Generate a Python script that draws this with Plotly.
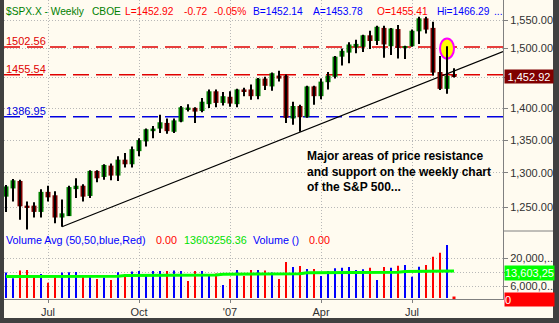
import math
import pandas as pd
import plotly.graph_objects as go

# ---- weekly S&P 500 bars (week starting Monday) ----
weeks = pd.date_range("2006-05-22", periods=65, freq="W-MON")

opens = [1265, 1277, 1288, 1252, 1252, 1243, 1272, 1267, 1235, 1237, 1276, 1281, 1266,
         1303, 1294, 1311, 1296, 1320, 1313, 1333, 1348, 1364, 1368, 1377, 1363, 1379,
         1399, 1401, 1396, 1407, 1428, 1409, 1419, 1407, 1431, 1431, 1420, 1449, 1436,
         1454, 1454, 1384, 1404, 1386, 1436, 1420, 1443, 1452, 1486, 1493, 1502, 1503,
         1523, 1513, 1536, 1504, 1534, 1502.6, 1504, 1530, 1553, 1536, 1460, 1432, 1455.41]
highs = [1282, 1291, 1290, 1258, 1257, 1276, 1281, 1273, 1261, 1281, 1292, 1283, 1304,
         1304, 1313, 1314, 1325, 1330, 1340, 1353, 1368, 1372, 1390, 1384, 1384, 1404,
         1407, 1402, 1417, 1431, 1431, 1427, 1428, 1432, 1434, 1439, 1450, 1452, 1459,
         1462, 1456, 1411, 1406, 1437, 1437, 1449, 1460, 1487, 1500, 1511, 1515, 1524,
         1531, 1540, 1540, 1536, 1541, 1505, 1533, 1556, 1556, 1547, 1487, 1503.9, 1466.29]
lows = [1243, 1258, 1232, 1218, 1235, 1235, 1258, 1227, 1222, 1237, 1263, 1258, 1263,
        1286, 1290, 1289, 1288, 1308, 1308, 1325, 1340, 1353, 1361, 1360, 1361, 1378,
        1395, 1377, 1394, 1401, 1402, 1405, 1403, 1402, 1420, 1414, 1415, 1430, 1429,
        1444, 1377, 1374, 1363, 1385, 1406, 1415, 1431, 1449, 1471, 1475, 1492, 1494,
        1499, 1506, 1484, 1489, 1483, 1482, 1503, 1508, 1526, 1454, 1430, 1424, 1451]
closes = [1280, 1289, 1251, 1250, 1243, 1272, 1264, 1235, 1241, 1279, 1281, 1265, 1303,
          1292, 1312, 1296, 1320, 1313, 1336, 1350, 1367, 1368, 1378, 1364, 1381, 1402,
          1401.5, 1395, 1411, 1428, 1409, 1420, 1408, 1431, 1428, 1420, 1449, 1437, 1458,
          1449, 1385, 1404, 1386, 1436, 1420, 1444, 1454, 1486, 1496, 1507, 1508, 1523,
          1513, 1538, 1507, 1535, 1501, 1503.4, 1531, 1553, 1533, 1459, 1432, 1453.64, 1452.92]

# weekly volume in millions, with its up/down colouring and 50-bar average
volumes_m = [12.8, 9.9, 13.8, 14.1, 11.6, 12.1, 7.7, 11.6, 12.8, 13.0, 13.1, 11.6, 11.6,
             9.6, 10.3, 9.1, 13.0, 12.1, 13.3, 13.6, 12.1, 13.6, 13.6, 13.6, 13.8, 13.6,
             8.6, 13.6, 13.6, 12.1, 12.4, 6.6, 9.6, 14.1, 11.1, 14.1, 14.1, 13.8, 12.9,
             9.6, 18.1, 15.6, 16.1, 14.6, 14.6, 11.1, 13.6, 15.0, 15.3, 15.6, 14.1, 14.5,
             15.3, 9.1, 15.6, 15.3, 16.3, 16.6, 10.7, 15.8, 16.6, 20.8, 22.8, 26.7, 0.0]
vol_dir = ["up", "up", "dn", "dn", "dn", "up", "dn", "dn", "up", "up", "up", "dn", "up",
           "dn", "up", "dn", "up", "dn", "up", "up", "up", "up", "up", "dn", "up", "up",
           "dn", "dn", "up", "up", "dn", "up", "dn", "up", "dn", "dn", "up", "dn", "up",
           "dn", "dn", "up", "dn", "up", "dn", "up", "up", "up", "up", "up", "up", "up",
           "dn", "up", "dn", "up", "dn", "up", "up", "up", "dn", "dn", "dn", "up", "dn"]
vol_avg_m = [10.8, 10.8, 10.8, 10.8, 10.8, 10.8, 10.8, 10.8, 10.8, 10.8, 10.8, 10.8,
             11.0, 11.0, 11.0, 11.0, 11.0,
             11.3, 11.3, 11.3, 11.3, 11.3, 11.3, 11.3, 11.3, 11.3,
             11.6, 11.6, 11.6, 11.6, 11.6,
             12.0, 12.0, 12.0, 12.0, 12.0, 12.0, 12.0,
             12.2, 12.2, 12.2, 12.2, 12.2,
             12.7, 12.7, 12.7, 12.7, 12.7, 12.7, 12.7,
             13.0, 13.0, 13.0, 13.0, 13.0, 13.0, 13.0,
             13.3, 13.3, 13.4, 13.4, 13.5, 13.5, 13.6, 13.60325636]

# drawn studies
levels = [1502.56, 1455.54, 1386.95]
level_colors = ["#E00000", "#E00000", "#0000E0"]
trend_dates = ["2006-07-17", "2007-10-01"]
trend_prices = [1222.0, 1494.9]
marked_bar = 63  # the week whose high is circled

price_ticks = [1250, 1300, 1350, 1400, 1450, 1500, 1550]
price_tick_text = ["1,250.00", "1,300.00", "1,350.00", "1,400.00", "", "1,500.00", "1,550.00"]
vol_ticks = [6e6, 13e6, 20e6]
vol_tick_text = ["6,000,0...", "", "20,000,..."]
date_ticks = ["2006-07-03", "2006-10-02", "2007-01-01", "2007-04-02", "2007-07-02"]
date_tick_text = ["Jul", "Oct", "'07", "Apr", "Jul"]

FONT = "Liberation Sans, Arial, sans-serif"
BG = "#FFFBF0"
GRID = "#B8B8B8"
AXIS = "#808080"
FRAME = "#404040"
DAY_MS = 86400000

# plot-area geometry in pixels (whole figure 559 x 323)
W, H = 559, 323
PL, PR, PT, PB = 4, 503, 0, 299
SPLIT = 231  # boundary between price and volume panes


def xp(px):
    return (px - PL) / (PR - PL)


def yp(py):
    return (PB - py) / (PB - PT)


fig = go.Figure()

# candle wicks
wx, wy = [], []
for d, lo, hi in zip(weeks, lows, highs):
    wx += [d, d, None]
    wy += [lo, hi, None]
fig.add_trace(go.Scatter(x=wx, y=wy, mode="lines", line=dict(color="black", width=2),
                         hoverinfo="skip", showlegend=False))

# candle bodies
body_base = [min(o, c) for o, c in zip(opens, closes)]
body_len = [abs(c - o) for o, c in zip(opens, closes)]
body_col = ["#008000" if c >= o else "#800000" for o, c in zip(opens, closes)]
fig.add_trace(go.Bar(x=weeks, y=body_len, base=body_base, width=5 * DAY_MS,
                     marker=dict(color=body_col, line=dict(width=0)), showlegend=False))

# volume histogram
vols = [v * 1e6 for v in volumes_m]
vcol = ["#0000FF" if d == "up" else "#FF0000" for d in vol_dir]
fig.add_trace(go.Bar(x=weeks, y=vols, width=2 * DAY_MS, xaxis="x2", yaxis="y2",
                     marker=dict(color=vcol, line=dict(width=0)), showlegend=False))
zero_idx = [i for i, v in enumerate(vols) if v == 0]
fig.add_trace(go.Scatter(x=[weeks[i] for i in zero_idx], y=[0 for _ in zero_idx],
                         mode="markers", xaxis="x2", yaxis="y2",
                         marker=dict(symbol="square", size=3, color=[vcol[i] for i in zero_idx]),
                         showlegend=False))
fig.add_trace(go.Scatter(x=weeks, y=[v * 1e6 for v in vol_avg_m], mode="lines",
                         xaxis="x2", yaxis="y2", line=dict(color="#00FF00", width=3),
                         showlegend=False))

shapes = []
for lv, col in zip(levels, level_colors):
    shapes.append(dict(type="line", xref="paper", yref="y", x0=0, x1=1, y0=lv, y1=lv,
                       line=dict(color=col, width=1.5, dash="16px,7px"), layer="between"))
shapes.append(dict(type="line", xref="x", yref="y", x0=trend_dates[0], x1=trend_dates[1],
                   y0=trend_prices[0], y1=trend_prices[1],
                   line=dict(color="black", width=1.2), layer="between"))
# highlight ring around the circled high
mark_day = weeks[marked_bar]
mark_hi = highs[marked_bar]
shapes.append(dict(type="circle", xref="x", yref="y",
                   x0=mark_day - pd.Timedelta(days=7), x1=mark_day + pd.Timedelta(days=7),
                   y0=mark_hi / 1.0142, y1=mark_hi * 1.009, fillcolor="#FFFF00",
                   line=dict(color="#FF00FF", width=2), layer="between"))

# window frame and pane separator on the scale side
shapes += [
    dict(type="rect", xref="paper", yref="paper", x0=xp(0), x1=xp(PL), y0=yp(H), y1=yp(0),
         fillcolor=FRAME, line=dict(width=0), layer="above"),
    dict(type="rect", xref="paper", yref="paper", x0=xp(553), x1=xp(W), y0=yp(H), y1=yp(0),
         fillcolor=FRAME, line=dict(width=0), layer="above"),
    dict(type="rect", xref="paper", yref="paper", x0=xp(0), x1=xp(W), y0=yp(H), y1=yp(318),
         fillcolor=FRAME, line=dict(width=0), layer="above"),
    dict(type="line", xref="paper", yref="paper", x0=xp(PR), x1=xp(553), y0=yp(SPLIT),
         y1=yp(SPLIT), line=dict(color=AXIS, width=1), layer="above"),
]

ann = []


def label(x, y, text, color, size=11, yref="paper", **kw):
    d = dict(x=x, y=y, xref="paper", yref=yref, text=text, showarrow=False,
             xanchor="left", yanchor="middle", borderpad=0,
             font=dict(family=FONT, size=size, color=color))
    d.update(kw)
    ann.append(d)


# header line
GREEN_T, RED_T, BLUE_T = "#008000", "#FF0000", "#0000FF"
for x, t, c in [(5, "$SPX.X - Weekly", GREEN_T), (91, "CBOE", GREEN_T),
                (124, "L=1452.92", RED_T), (183, "-0.72", RED_T), (213, "-0.05%", RED_T),
                (252, "B=1452.14", BLUE_T), (312, "A=1453.78", BLUE_T),
                (376, "O=1455.41", RED_T), (436, "Hi=1466.29", BLUE_T), (493, "...", BLUE_T)]:
    label(xp(x), yp(11.5), t, c, size=10.2)

# volume pane header
for x, t, c in [(5, "Volume Avg (50,50,blue,Red)", BLUE_T), (155, "0.00", RED_T),
                (183, "13603256.36", "#00E000"), (252, "Volume ()", BLUE_T),
                (308, "0.00", RED_T)]:
    label(xp(x), yp(239.5), t, c, size=10.75)

# level captions above each line
for lv, col in zip(levels, level_colors):
    label(xp(5), math.log10(lv), f"{lv:.2f}", col, yref="y", yshift=6)

# comment text
label(xp(306), yp(171.7),
      "<b>Major areas of price resistance<br>and support on the weekly chart<br>"
      "of the S&amp;P 500...</b>", "black", size=12, align="left")

# last-value flags on the scale
label(xp(504), math.log10(closes[-1]), f"{closes[-1]:,.2f}", "white", yref="y",
      bgcolor="#800000", width=48, height=13, align="center")
label(xp(503.5), vol_avg_m[-1] * 1e6, f"{vol_avg_m[-1] * 1e6:,.0f}"[:9], "white", yref="y2",
      bgcolor="#00FF00", width=49, height=14, align="left", yshift=-2)
label(xp(503.5), vols[-1], f"{vols[-1]:.0f}", "white", yref="y2",
      bgcolor="#FF0000", width=49, height=13, align="left", yshift=-1.5)

x_range = ["2006-05-20", "2007-10-01"]
price_top, price_bottom = 1586.1, 1216.0
vol_top, vol_bottom = 33.75e6, -0.5e6

fig.update_layout(
    width=W, height=H,
    margin=dict(l=PL, r=W - PR, t=PT, b=H - PB),
    paper_bgcolor=BG, plot_bgcolor=BG,
    showlegend=False, barmode="overlay",
    font=dict(family=FONT, size=11, color="#303030"),
    xaxis=dict(type="date", range=x_range, domain=[0, 1], anchor="y",
               tickvals=date_ticks, showticklabels=False, ticks="",
               showgrid=True, gridcolor=GRID, griddash="1px,2px", gridwidth=1,
               zeroline=False, showline=False),
    yaxis=dict(type="log", domain=[yp(SPLIT), 1], anchor="x",
               range=[math.log10(price_bottom), math.log10(price_top)],
               side="right", tickvals=price_ticks, ticktext=price_tick_text,
               ticks="outside", ticklen=4, tickcolor=AXIS,
               tickfont=dict(size=11, color="#303030"),
               showgrid=True, gridcolor=GRID, griddash="1px,2px", gridwidth=1,
               zeroline=False, showline=True, linecolor=AXIS, linewidth=1),
    xaxis2=dict(type="date", range=x_range, domain=[0, 1], anchor="y2",
                tickvals=date_ticks, ticktext=date_tick_text,
                ticks="outside", ticklen=3, tickcolor=AXIS,
                tickfont=dict(size=11, color="#303030"),
                showgrid=True, gridcolor=GRID, griddash="1px,2px", gridwidth=1,
                zeroline=False, showline=True, linecolor=AXIS, linewidth=1),
    yaxis2=dict(domain=[0, yp(SPLIT)], anchor="x2", range=[vol_bottom, vol_top],
                side="right", tickvals=vol_ticks, ticktext=vol_tick_text,
                ticks="outside", ticklen=4, tickcolor=AXIS,
                tickfont=dict(size=11, color="#303030"),
                showgrid=True, gridcolor=GRID, griddash="1px,2px", gridwidth=1,
                zeroline=False, showline=True, linecolor=AXIS, linewidth=1),
    shapes=shapes,
    annotations=ann,
)

fig.write_html("out.html")
